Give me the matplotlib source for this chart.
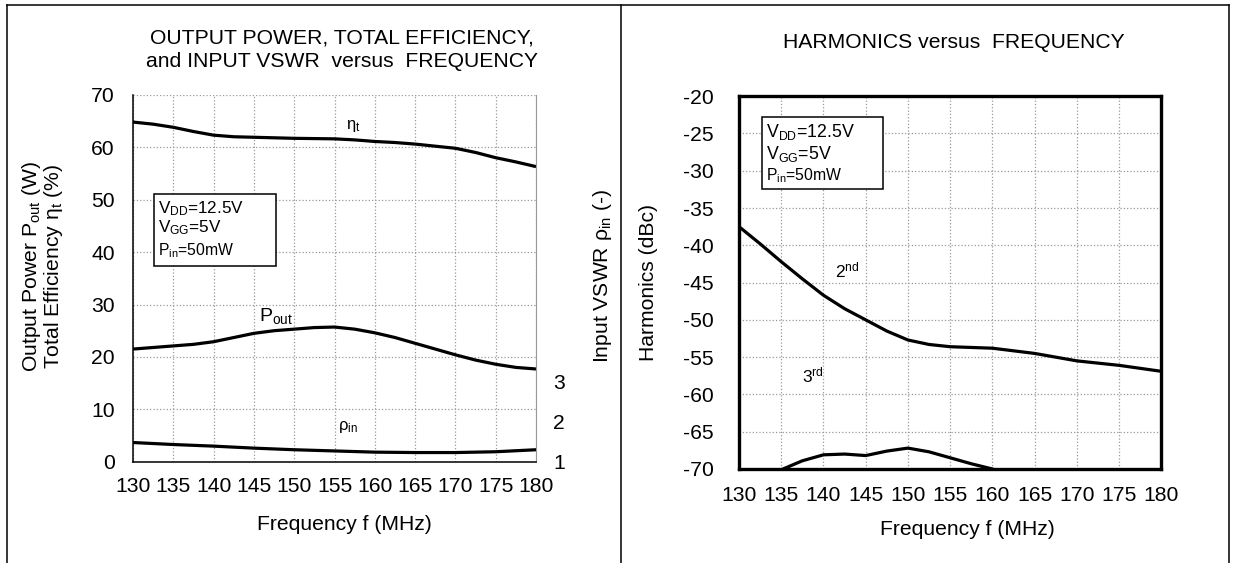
import matplotlib
matplotlib.use("Agg")
import matplotlib.pyplot as plt
from matplotlib.lines import Line2D
from matplotlib.patches import Rectangle

plt.rcParams['font.family'] = ['Liberation Sans', 'DejaVu Sans']
plt.rcParams['mathtext.fontset'] = 'custom'
plt.rcParams['mathtext.rm'] = 'Liberation Sans'
plt.rcParams['mathtext.it'] = 'Liberation Sans:italic'
plt.rcParams['axes.unicode_minus'] = False

# data
freq = [130, 132.5, 135, 137.5, 140, 142.5, 145, 147.5, 150, 152.5, 155,
        157.5, 160, 162.5, 165, 167.5, 170, 172.5, 175, 177.5, 180]
eta_t = [64.8, 64.4, 63.8, 63.0, 62.3, 62.0, 61.9, 61.8, 61.7, 61.65, 61.6,
         61.4, 61.1, 60.9, 60.6, 60.2, 59.8, 59.0, 58.0, 57.2, 56.3]
p_out = [21.5, 21.8, 22.1, 22.4, 22.9, 23.7, 24.5, 25.0, 25.3, 25.6, 25.7,
         25.3, 24.6, 23.7, 22.6, 21.5, 20.4, 19.4, 18.6, 18.0, 17.7]

freq_v = [130, 135, 140, 145, 150, 155, 160, 165, 170, 175, 180]
vswr = [1.48, 1.43, 1.39, 1.34, 1.30, 1.27, 1.24, 1.23, 1.23, 1.25, 1.30]

freq_h2 = [130, 132.5, 135, 137.5, 140, 142.5, 145, 147.5, 150, 152.5, 155,
           160, 165, 170, 175, 180]
harm2 = [-37.5, -39.8, -42.2, -44.5, -46.7, -48.5, -50.0, -51.5, -52.7, -53.3,
         -53.6, -53.8, -54.5, -55.5, -56.1, -56.9]
freq_h3 = [132.5, 135, 137.5, 140, 142.5, 145, 147.5, 150, 152.5, 155, 157.5,
           160, 162.5]
harm3 = [-71.5, -70.1, -68.9, -68.1, -68.0, -68.2, -67.6, -67.2, -67.7, -68.5,
         -69.3, -70.0, -71.0]

xticks = list(range(130, 181, 5))
FS = 15.2

fig = plt.figure(figsize=(12.34, 5.63), dpi=100)

# ---------------- left panel ----------------
ax1 = fig.add_axes([0.1078, 0.1798, 0.3266, 0.6518])
ax1.plot(freq, eta_t, color='black', lw=2.3, solid_capstyle='butt')
ax1.plot(freq, p_out, color='black', lw=2.3, solid_capstyle='butt')
ax1.set_xlim(130, 180)
ax1.set_ylim(0, 70)
ax1.set_xticks(xticks)
ax1.set_yticks(range(0, 71, 10))
ax1.grid(True, color='#999999', linestyle=':', lw=0.9)
ax1.tick_params(length=0, labelsize=FS)
ax1.tick_params(axis='y', pad=13)
ax1.tick_params(axis='x', pad=11)
ax1.spines['top'].set_visible(False)
ax1.spines['right'].set_color('#999999')
ax1.spines['right'].set_linewidth(0.8)
ax1.spines['left'].set_linewidth(1.1)
ax1.spines['bottom'].set_linewidth(1.1)

ax1b = ax1.twinx()
ax1b.plot(freq_v, vswr, color='black', lw=2.3, solid_capstyle='butt')
ax1b.set_ylim(1, 1 + 70 / 7.65)
ax1b.set_yticks([1, 2, 3])
ax1b.tick_params(length=0, labelsize=FS, pad=12.5)
for s in ax1b.spines.values():
    s.set_visible(False)

ax1.text(156.4, 64.0, r'η$_\mathregular{t}$', fontsize=12, ha='left', va='center')
ax1.text(145.6, 27.8, r'P$_\mathregular{out}$', fontsize=14, ha='left', va='center')
ax1.text(155.4, 6.6, r'ρ$_\mathregular{in}$', fontsize=12, ha='left', va='center')

ax1.add_patch(Rectangle((132.6, 37.3), 15.1, 13.8, fill=True, facecolor='white',
                        edgecolor='black', lw=1.1, zorder=3))
ax1.text(133.1, 48.2, r'V$_\mathregular{DD}$=12.5V', fontsize=12.3, va='center', zorder=4)
ax1.text(133.1, 44.6, r'V$_\mathregular{GG}$=5V', fontsize=12.3, va='center', zorder=4)
ax1.text(133.1, 40.2, r'P$_\mathregular{in}$=50mW', fontsize=11.3, va='center', zorder=4)

fig.text(342 / 1234, 1 - 37.7 / 563, 'OUTPUT POWER, TOTAL EFFICIENCY,',
         fontsize=FS, ha='center', va='center')
fig.text(342 / 1234, 1 - 61.8 / 563, 'and INPUT VSWR  versus  FREQUENCY',
         fontsize=FS, ha='center', va='center')
fig.text(31.6 / 1234, 1 - 266 / 563, r'Output Power P$_\mathregular{out}$ (W)',
         fontsize=FS, rotation=90, ha='center', va='center')
fig.text(53.4 / 1234, 1 - 266 / 563, r'Total Efficiency η$_\mathregular{t}$ (%)',
         fontsize=FS, rotation=90, ha='center', va='center')
fig.text(603 / 1234, 1 - 275.5 / 563, r'Input VSWR ρ$_\mathregular{in}$ (-)',
         fontsize=FS, rotation=90, ha='center', va='center')
fig.text(344 / 1234, 1 - 524 / 563, 'Frequency f (MHz)',
         fontsize=FS, ha='center', va='center')

# ---------------- right panel ----------------
ax2 = fig.add_axes([0.5989, 0.167, 0.3422, 0.6621])
ax2.plot(freq_h2, harm2, color='black', lw=2.3, solid_capstyle='butt')
ax2.plot(freq_h3, harm3, color='black', lw=2.3, solid_capstyle='butt')
ax2.set_xlim(130, 180)
ax2.set_ylim(-70, -20)
ax2.set_xticks(xticks)
ax2.set_yticks(range(-70, -19, 5))
ax2.grid(True, color='#999999', linestyle=':', lw=0.9)
ax2.tick_params(length=0, labelsize=FS)
ax2.tick_params(axis='y', pad=18)
ax2.tick_params(axis='x', pad=12)
for s in ax2.spines.values():
    s.set_linewidth(2.4)
    s.set_zorder(5)

ax2.text(141.4, -43.4, r'2$^\mathregular{nd}$', fontsize=12.5, ha='left', va='center')
ax2.text(137.5, -57.4, r'3$^\mathregular{rd}$', fontsize=12.5, ha='left', va='center')

ax2.add_patch(Rectangle((132.7, -32.5), 14.4, 9.75, fill=True, facecolor='white',
                        edgecolor='black', lw=1.1, zorder=3))
ax2.text(133.2, -24.8, r'V$_\mathregular{DD}$=12.5V', fontsize=12.8, va='center', zorder=4)
ax2.text(133.2, -27.8, r'V$_\mathregular{GG}$=5V', fontsize=12.8, va='center', zorder=4)
ax2.text(133.2, -30.7, r'P$_\mathregular{in}$=50mW', fontsize=11.3, va='center', zorder=4)

fig.text(954 / 1234, 1 - 42.4 / 563, 'HARMONICS versus  FREQUENCY',
         fontsize=FS, ha='center', va='center')
fig.text(648.5 / 1234, 1 - 282.6 / 563, 'Harmonics (dBc)',
         fontsize=FS, rotation=90, ha='center', va='center')
fig.text(967 / 1234, 1 - 529.6 / 563, 'Frequency f (MHz)',
         fontsize=FS, ha='center', va='center')

# panel borders
for xs, ys in [([0.0057, 0.0057], [0, 0.9904]),
               ([0.0057, 0.996], [0.9904, 0.9904]),
               ([0.996, 0.996], [0, 0.9904]),
               ([0.5032, 0.5032], [0, 0.9904])]:
    fig.add_artist(Line2D(xs, ys, color='black', lw=1.1))

fig.savefig('out.png', dpi=100)
